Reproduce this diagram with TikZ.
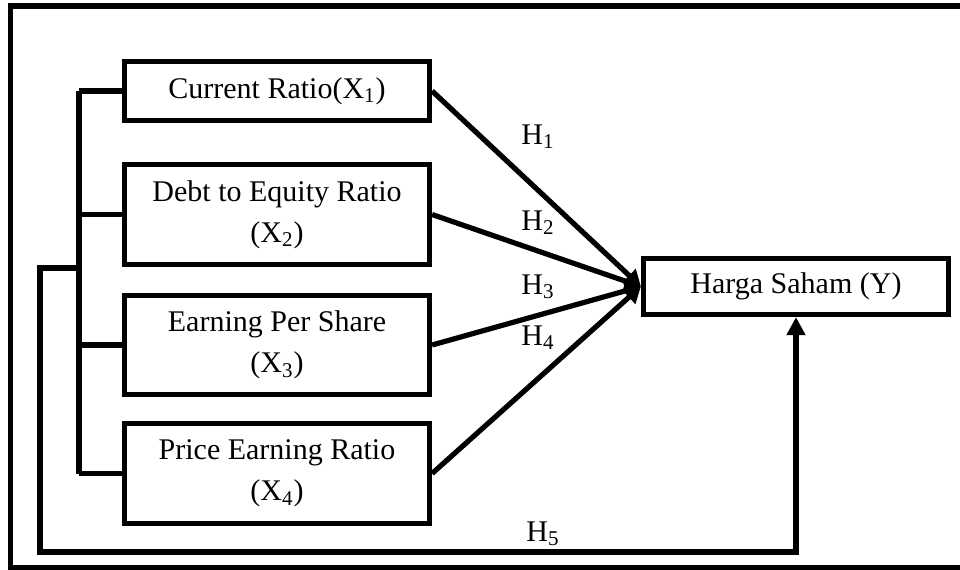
\documentclass[tikz,border=0pt]{standalone}
\usepackage{fontspec}
\setmainfont{Liberation Serif}
\usetikzlibrary{arrows.meta}

\begin{document}
\begin{tikzpicture}[x=0.5pt,y=-0.5pt,line join=miter,line width=2.6pt,>={Triangle[length=8pt,width=9pt]}]
    \tikzset{box/.style={draw,inner sep=0pt,minimum width=152.5pt,align=center,font=\fontsize{15}{20.5}\selectfont},
        hyp/.style={font=\fontsize{15}{18}\selectfont}}
    \useasboundingbox (0,0) rectangle (960,569);
    % frame
    \draw (975,6) -- (10.5,6) -- (10.5,568) -- (975,568);
    % variables
    \node[box,minimum height=29.5pt] (cr) at (277,91) {Current Ratio(X\textsubscript{1})};
    \node[box,minimum height=50pt] (der) at (277,214.5) {Debt to Equity Ratio\\(X\textsubscript{2})};
    \node[box,minimum height=49.5pt] (eps) at (277,345) {Earning Per Share\\(X\textsubscript{3})};
    \node[box,minimum height=50pt] (per) at (277,473.5) {Price Earning Ratio\\(X\textsubscript{4})};
    \node[box,minimum height=28pt] (hs) at (796,286.5) {Harga Saham (Y)};
    % bus on the left
    \coordinate (bus) at (79,0);
    \coordinate (j) at (79,268);
    \foreach \b in {cr,der,eps,per}
        \draw (\b.west) -- (\b.west -| bus);
    \draw (cr.west -| bus) -- (per.west -| bus);
    \draw[-{Triangle[length=9pt,width=9pt]}] (j) -- (40,268) -- (40,552) -| (hs.south);
    % hypotheses
    \foreach \b in {cr,der,eps,per}
        \draw[->] (\b.east) -- (hs.west);
    \node[hyp] (h1) at (538,137) {H\textsubscript{1}};
    \node[hyp] (h2) at (538,223) {H\textsubscript{2}};
    \node[hyp] (h3) at (538,287) {H\textsubscript{3}};
    \node[hyp] (h4) at (538,338) {H\textsubscript{4}};
    \node[hyp] (h5) at (543,534) {H\textsubscript{5}};
\end{tikzpicture}
\end{document}
